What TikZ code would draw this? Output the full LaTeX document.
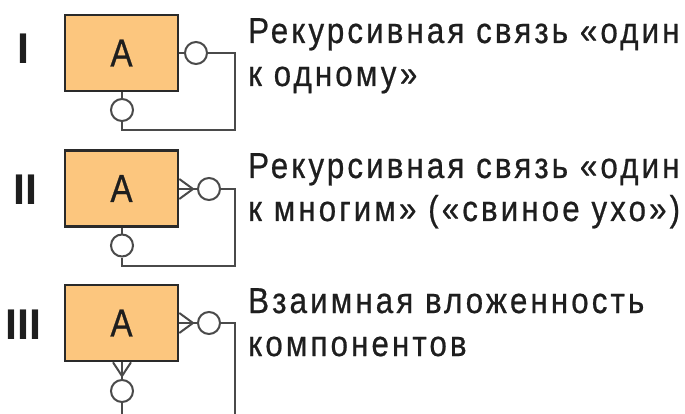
\documentclass[tikz,border=0pt]{standalone}
\usepackage{fontspec}
\setmainfont{Liberation Sans}
\newfontfamily\labelfont[FakeStretch=0.87, LetterSpace=8.6, FakeBold=0.6]{Liberation Sans}
\newfontfamily\entityfont[FakeStretch=0.85, FakeBold=0.6]{Liberation Sans}
\newfontfamily\numfont{Liberation Sans}[BoldFont={Liberation Sans Bold}]
\definecolor{entfill}{HTML}{FCC67E}
\definecolor{entline}{HTML}{2A2A2A}
\definecolor{linkline}{HTML}{4A4A4A}
\definecolor{inktext}{HTML}{1E1E1E}
\begin{document}
\begin{tikzpicture}[x=1pt,y=-1pt,
  entity/.style={draw=entline, line width=2.6pt, fill=entfill,
    minimum width=113pt, minimum height=76pt, inner sep=0pt,
    text=inktext, font=\entityfont\fontsize{39}{39}\selectfont},
  opt/.style={circle, draw=linkline, line width=2pt, fill=white,
    minimum size=22pt, inner sep=0pt},
  link/.style={draw=linkline, line width=2pt},
  num/.style={inner sep=0pt, text=inktext,
    font=\numfont\bfseries\fontsize{43}{43}\selectfont},
  caption/.style={anchor=base west, inner sep=0pt, text=inktext,
    font=\labelfont\fontsize{36}{43}\selectfont}]
\useasboundingbox (0,0) rectangle (685,414);
\clip (0,0) rectangle (685,414);

% ---------- I: one-to-one recursion ----------
\node[num] (n1) at (23.5,49) {I};
\node[entity] (e1) at (121.5,53) {A};
\node[opt] (r1) at (196,53) {};
\node[opt] (b1) at (122,110) {};
\coordinate (k1) at (235,130);
\draw[link] (e1.east |- r1) -- (r1.west);
\draw[link] (e1.south -| b1) -- (b1.north);
\draw[link] (r1.east) -| (k1) -| (b1.south);
\node[caption] (t1a) at (248,43) {Рекурсивная связь «один};
\node[caption] (t1b) at (248,86) {к одному»};

% ---------- II: one-to-many recursion ----------
\node[num] (n2) at (25,190) {II};
\node[entity] (e2) at (121.5,188.5) {A};
\node[opt] (r2) at (209,189) {};
\node[opt] (b2) at (122,245.5) {};
\coordinate (k2) at (235,266);
\coordinate (c2) at (193,189);
\draw[link] (e2.east |- r2) -- (r2.west);
\draw[link] ([yshift=-10pt]e2.east |- r2) -- (c2) -- ([yshift=10pt]e2.east |- r2);
\draw[link] (e2.south -| b2) -- (b2.north);
\draw[link] (r2.east) -| (k2) -| (b2.south);
\node[caption] (t2a) at (248,178) {Рекурсивная связь «один};
\node[caption] (t2b) at (248,221) {к многим» («свиное ухо»)};

% ---------- III: mutual nesting ----------
\node[num] (n3) at (23.5,325) {III};
\node[entity] (e3) at (121.5,323) {A};
\node[opt] (r3) at (209,323) {};
\node[opt] (b3) at (122,391) {};
\coordinate (k3) at (235,436);
\coordinate (c3) at (193,323);
\coordinate (d3) at (122,376);
\draw[link] (e3.east |- r3) -- (r3.west);
\draw[link] ([yshift=-10pt]e3.east |- r3) -- (c3) -- ([yshift=10pt]e3.east |- r3);
\draw[link] (e3.south -| b3) -- (b3.north);
\draw[link] ([xshift=-9pt]e3.south -| b3) -- (d3) -- ([xshift=9pt]e3.south -| b3);
\draw[link] (r3.east) -| (k3) -| (b3.south);
\node[caption] (t3a) at (248,313) {Взаимная вложенность};
\node[caption] (t3b) at (248,356) {компонентов};
\end{tikzpicture}
\end{document}
